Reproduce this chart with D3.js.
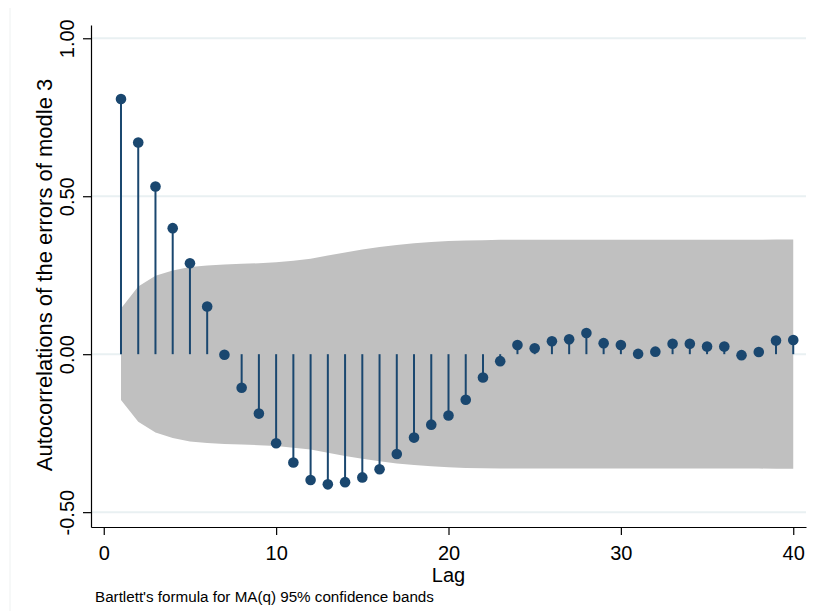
<!DOCTYPE html>
<html>
<head>
<meta charset="utf-8">
<script src="https://cdn.jsdelivr.net/npm/d3@7"></script>
<style>
    body { margin: 0; background: #fff; }
    svg text { font-family: "Liberation Sans", Arial, Helvetica, sans-serif; fill: #000; }
</style>
</head>
<body>
<svg id="chart" width="815" height="611"></svg>
<script>
// autocorrelations, lag 1..40
const lags = d3.range(1, 41);
const acf = [
    0.808, 0.670, 0.531, 0.399, 0.288, 0.151, -0.002, -0.106, -0.188, -0.282,
    -0.343, -0.398, -0.412, -0.405, -0.390, -0.364, -0.316, -0.264, -0.223, -0.194,
    -0.144, -0.074, -0.022, 0.029, 0.019, 0.041, 0.047, 0.067, 0.035, 0.029,
    0.001, 0.008, 0.033, 0.033, 0.024, 0.024, -0.003, 0.007, 0.043, 0.045
];
// half width of the 95% band at each lag
const band = [
    0.145, 0.214, 0.248, 0.265, 0.276, 0.281, 0.284, 0.286, 0.288, 0.291,
    0.296, 0.302, 0.312, 0.322, 0.331, 0.339, 0.346, 0.351, 0.355, 0.358,
    0.360, 0.361, 0.362, 0.362, 0.362, 0.362, 0.362, 0.362, 0.362, 0.362,
    0.362, 0.362, 0.362, 0.362, 0.362, 0.362, 0.362, 0.362, 0.363, 0.363
];
const xTicks = [0, 10, 20, 30, 40];
const yTicks = [-0.5, 0, 0.5, 1];

const navy = '#1a476f';
const svg = d3.select('#chart');

let x = d3.scaleLinear().domain([-0.74, 40.74]).range([91, 806]);
let y = d3.scaleLinear().domain([-0.547, 1.042]).range([527, 25]);

// faint outer region line
svg.append('line')
    .attr('x1', 10).attr('x2', 10).attr('y1', 8).attr('y2', 611)
    .attr('stroke', '#eef1f1').attr('stroke-width', 1);

// grid
svg.append('g').selectAll('line')
    .data(yTicks)
    .enter()
    .append('line')
    .attr('x1', 91).attr('x2', 806)
    .attr('y1', d => y(d)).attr('y2', d => y(d))
    .attr('stroke', '#e9f0f2')
    .attr('stroke-width', 2);

// confidence band
let rows = lags.map((l, i) => ({lag: l, hw: band[i]}));
let area = d3.area()
    .x(d => x(d.lag))
    .y0(d => y(-d.hw))
    .y1(d => y(d.hw));
svg.append('path')
    .datum(rows)
    .attr('d', area)
    .attr('fill', '#c0c0c0');

// stems and dots
let pts = lags.map((l, i) => ({lag: l, r: acf[i]}));
svg.append('g').selectAll('line')
    .data(pts)
    .enter()
    .append('line')
    .attr('x1', d => x(d.lag)).attr('x2', d => x(d.lag))
    .attr('y1', y(0)).attr('y2', d => y(d.r))
    .attr('stroke', navy)
    .attr('stroke-width', 2);

svg.append('g').selectAll('circle')
    .data(pts)
    .enter()
    .append('circle')
    .attr('cx', d => x(d.lag))
    .attr('cy', d => y(d.r))
    .attr('r', 5.3)
    .attr('fill', navy);

// axes
let yAxis = svg.append('g')
    .attr('transform', 'translate(91,0)')
    .call(d3.axisLeft(y).tickValues(yTicks).tickFormat(d => d.toFixed(2)).tickSize(8).tickSizeOuter(0));
yAxis.selectAll('text')
    .attr('transform', 'rotate(-90)')
    .attr('x', 0).attr('y', -17).attr('dy', 0)
    .attr('text-anchor', 'middle')
    .style('font-size', '20px');

let xAxis = svg.append('g')
    .attr('transform', 'translate(0,527)')
    .call(d3.axisBottom(x).tickValues(xTicks).tickSize(8).tickSizeOuter(0));
xAxis.selectAll('text')
    .attr('y', 33).attr('dy', 0)
    .style('font-size', '20px');
svg.selectAll('.domain, .tick line').attr('stroke', '#000').attr('stroke-width', 1.2);

// titles
svg.append('text')
    .attr('transform', 'translate(52,275) rotate(-90)')
    .attr('text-anchor', 'middle')
    .style('font-size', '22px')
    .text('Autocorrelations of the errors of modle 3');

svg.append('text')
    .attr('x', 448.5).attr('y', 581.5)
    .attr('text-anchor', 'middle')
    .style('font-size', '20px')
    .text('Lag');

svg.append('text')
    .attr('x', 95).attr('y', 601.5)
    .style('font-size', '15.2px')
    .text("Bartlett's formula for MA(q) 95% confidence bands");
</script>
</body>
</html>
